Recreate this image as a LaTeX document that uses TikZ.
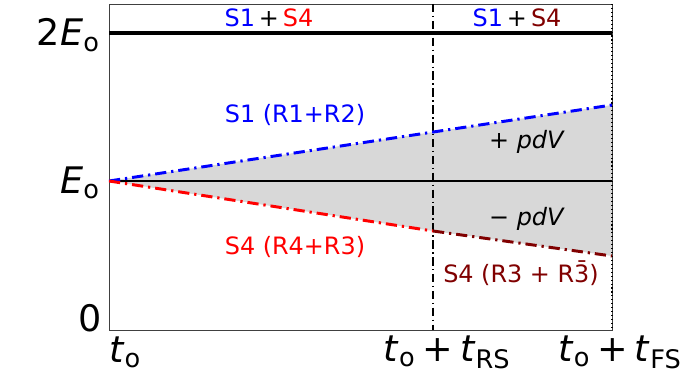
\documentclass[tikz,border=0pt]{standalone}
\usepackage{fontspec}
\setmainfont{DejaVu Sans}
\usetikzlibrary{positioning,calc}

\definecolor{sblue}{RGB}{0,0,255}
\definecolor{sred}{RGB}{255,0,0}
\definecolor{sdark}{RGB}{128,0,0}
\definecolor{pdvgray}{RGB}{216,216,216}

\newcommand{\lbl}{\fontsize{17}{20}\selectfont}
\newcommand{\tck}{\fontsize{26}{30}\selectfont}
\newcommand{\tplus}{\kern5pt+\kern5pt}

\tikzset{
	dashdot/.style={dash pattern=on 8pt off 3.5pt on 1.6pt off 3.5pt},
	path/.style={dashdot, line width=2.1pt},
	tick/.style={inner sep=0pt, font=\tck},
}

\begin{document}
\begin{tikzpicture}[x=0.025cm, y=-0.025cm]
		\useasboundingbox (0,0) rectangle (693,374);

		% corners of the axes and ends of the lines
		\coordinate (start) at (109,181);
		\coordinate (eEnd) at (612,181);
		\coordinate (bEnd) at (612,105);
		\coordinate (rMid) at (433,231);
		\coordinate (rEnd) at (612,256);

		\fill[pdvgray] (start) -- (bEnd) -- (rEnd) -- (rMid) -- cycle;
		\draw[black!75, line width=0.7pt] (109,4) rectangle (612,330);

		\draw[line width=1pt] (start) -- (eEnd);
		\draw[line width=3.5pt] (109,33) -- (612,33);
		\draw[line width=1pt, dash pattern=on 6pt off 2.5pt on 1pt off 2.5pt] (433,4) -- (433,330);
		\draw[line width=0.8pt, dotted] (612,4) -- (612,330);

		\draw[path, sblue] (start) -- (bEnd);
		\draw[path, sred] (start) -- (rMid);
		\draw[path, sdark] (rMid) -- (rEnd);

		% labels
		\node[font=\lbl] (top1) at (269,18) {\textcolor{sblue}{S1}\,+\,\textcolor{sred}{S4}};
		\node[font=\lbl] (top2) at (517,18) {\textcolor{sblue}{S1}\,+\,\textcolor{sdark}{S4}};
		\node[font=\lbl, sblue] (s1) at (295,115) {S1 (R1+R2)};
		\node[font=\lbl, sred] (s4) at (295,247) {S4 (R4+R3)};
		\node[font=\lbl, sdark] (s4b) at (521,273) {S4 (R3 + R\=3)};
		\node[font=\lbl] (plus) at (527,142) {+ \textit{pdV}};
		\node[font=\lbl] (minus) at (527,219) {− \textit{pdV}};

		% ticks
		\node[tick, anchor=east] (y2) at (100,35) {2\textit{E}\textsubscript{o}};
		\node[tick, anchor=east] (y1) at (100,183) {\textit{E}\textsubscript{o}};
		\node[tick, anchor=east] (y0) at (102,318) {0};
		\node[tick] (x0) at (125,352) {\textit{t}\textsubscript{o}};
		\node[tick] (x1) at (447,352) {\textit{t}\textsubscript{o}\tplus\textit{t}\textsubscript{RS}};
		\node[tick] (x2) at (620,352) {\textit{t}\textsubscript{o}\tplus\textit{t}\textsubscript{FS}};
	\end{tikzpicture}
\end{document}
